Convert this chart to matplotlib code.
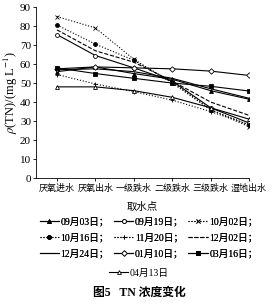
import matplotlib
matplotlib.use("Agg")
import matplotlib.pyplot as plt

plt.rcParams['font.family'] = ['Liberation Serif', 'Noto Sans CJK SC']
plt.rcParams['mathtext.fontset'] = 'stix'

sites = ["厌氧进水", "厌氧出水", "一级跌水", "二级跌水", "三级跌水", "湿地出水"]
dates = ["09月03日", "09月19日", "10月02日", "10月16日", "11月20日",
         "12月02日", "12月24日", "01月10日", "03月16日", "04月13日"]

tn_0903 = [56, 58.5, 55, 52, 46, 41.5]
tn_0919 = [75.5, 64.5, 58, 51, 37, 29]
tn_1002 = [85, 79, 62.5, 50, 36, 27]
tn_1016 = [80.5, 70.5, 62, 50.5, 36, 28]
tn_1120 = [54.5, 49.5, 45.5, 41, 35, 28]
tn_1202 = [78, 67, 61, 51, 40, 33]
tn_1224 = [57, 57.5, 56, 52.5, 47, 42]
tn_0110 = [57.5, 58.5, 58, 57.5, 56.3, 54]
tn_0316 = [58, 55, 52.5, 50, 48.3, 45.8]
tn_0413 = [48, 48, 46, 42.5, 37, 31]

series = [tn_0903, tn_0919, tn_1002, tn_1016, tn_1120,
          tn_1202, tn_1224, tn_0110, tn_0316, tn_0413]
# (linestyle, marker, marker face)
styles = [
    ('-', '^', 'black'),
    ('-', 'o', 'white'),
    (':', 'x', 'black'),
    (':', 'o', 'black'),
    (':', '+', 'black'),
    ('--', '', 'black'),
    ('-', '', 'black'),
    ('-', 'D', 'white'),
    ('-', 's', 'black'),
    ('-', '^', 'white'),
]

fig = plt.figure(figsize=(2.78, 3.07), dpi=100)
ax = fig.add_axes([0.129, 0.42, 0.767, 0.557])

x = list(range(len(sites)))
handles = []
for vals, (ls, mk, fc), d in zip(series, styles, dates):
    ms = 2.8 if mk not in ('x', '+') else 3.5
    h, = ax.plot(x, vals, color='black', linestyle=ls, linewidth=0.8,
                 marker=mk if mk else None, markersize=ms,
                 markerfacecolor=fc, markeredgecolor='black', markeredgewidth=0.6,
                 label=d)
    handles.append(h)

ax.set_xlim(-0.55, 5)
ax.set_ylim(0, 90)
ax.set_yticks(range(0, 91, 10))
ax.set_xticks(x)
ax.set_xticklabels(sites, fontsize=6.5)
ax.tick_params(axis='y', labelsize=8, length=2.5, width=0.6, pad=1)
ax.tick_params(axis='x', length=2.5, width=0.6, pad=2)
ax.spines['top'].set_visible(False)
ax.spines['right'].set_visible(False)
ax.spines['left'].set_linewidth(0.6)
ax.spines['bottom'].set_linewidth(0.6)
ax.set_ylabel(r"$\rho$(TN)/(mg L$^{-1}$)", fontsize=9, labelpad=0)
ax.set_xlabel("取水点", fontsize=7.5, labelpad=6)

# legend, row by row
order = [0, 3, 6, 1, 4, 7, 2, 5, 8]
leg1 = fig.legend([handles[i] for i in order], [dates[i] + "；" for i in order],
                  ncol=3, loc='center', bbox_to_anchor=(0.535, 0.226),
                  frameon=False, fontsize=7, handlelength=2.0, handletextpad=0.15,
                  columnspacing=0.5, labelspacing=0.65, borderpad=0)
fig.add_artist(leg1)
fig.legend([handles[9]], [dates[9]], loc='center', bbox_to_anchor=(0.5, 0.11),
           frameon=False, fontsize=7, handlelength=2.0, handletextpad=0.15,
           borderpad=0)

fig.text(0.5, 0.046, "图5   TN 浓度变化", ha='center', va='center',
         fontsize=8.5, fontweight='bold')

fig.savefig("out.png", dpi=100)
